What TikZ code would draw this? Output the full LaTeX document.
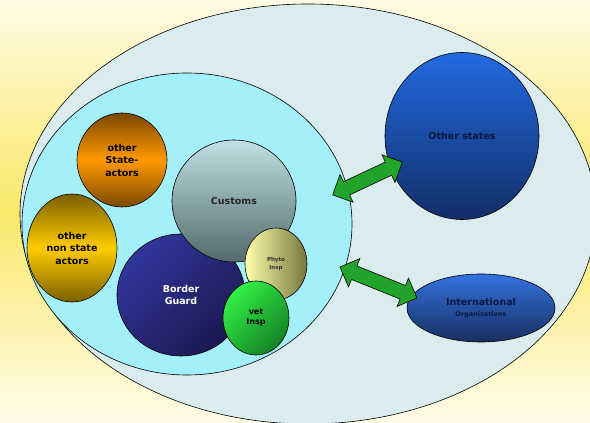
\documentclass[tikz,border=0pt]{standalone}
\usepackage{fontspec}
\setmainfont{DejaVu Sans}
\usepackage{tikz}
\usetikzlibrary{shapes.geometric,shapes.arrows}

\definecolor{bgtop}{RGB}{255,251,228}
\definecolor{bgyellow}{RGB}{250,232,105}
\definecolor{bgbottom}{RGB}{255,252,232}
\definecolor{outerfill}{RGB}{218,236,238}
\definecolor{innerfill}{RGB}{164,240,250}
\definecolor{custtop}{RGB}{190,224,228}
\definecolor{custbot}{RGB}{84,106,108}
\definecolor{statedark}{RGB}{122,72,0}
\definecolor{stateorange}{RGB}{255,153,0}
\definecolor{nonstdark}{RGB}{122,96,0}
\definecolor{nonstyellow}{RGB}{255,204,0}
\definecolor{guardlight}{RGB}{50,54,156}
\definecolor{guarddark}{RGB}{26,24,80}
\definecolor{phytolight}{RGB}{255,255,170}
\definecolor{phytodark}{RGB}{118,118,62}
\definecolor{vetlight}{RGB}{50,240,70}
\definecolor{vetdark}{RGB}{20,130,36}
\definecolor{othtop}{RGB}{34,106,224}
\definecolor{othbot}{RGB}{18,46,104}
\definecolor{inttop}{RGB}{52,114,224}
\definecolor{intbot}{RGB}{24,46,96}
\definecolor{arrowgreen}{RGB}{34,163,43}
\definecolor{navytext}{RGB}{10,24,64}

\begin{document}
\begin{tikzpicture}[x=1pt,y=1pt,
	actor/.style={shape=ellipse,draw=black,line width=0.6pt,inner sep=0pt,align=center,
		font=\fontsize{9.5}{12.5}\selectfont\bfseries},
	fatarrow/.style={shape=double arrow,draw=black,line width=0.6pt,fill=arrowgreen,
		inner xsep=0pt,inner ysep=7pt,double arrow head extend=8pt}]
	\useasboundingbox (0,0) rectangle (590,423);
	\shade[top color=bgtop,bottom color=bgbottom,middle color=bgyellow] (0,0) rectangle (590,423);

	% the two rings
	\node (outer) [actor,fill=outerfill,minimum width=576pt,minimum height=420pt] at (308,209) {};
	\node (inner) [actor,fill=innerfill,minimum width=330pt,minimum height=302pt] at (187,199) {};

	% national actors
	\node (stateact) [actor,top color=statedark,bottom color=statedark,middle color=stateorange,
		minimum width=90pt,minimum height=94pt] at (122,263) {other\\State-\\actors};
	\node (nonstate) [actor,top color=nonstdark,bottom color=nonstdark,middle color=nonstyellow,
		minimum width=90pt,minimum height=108pt] at (72,175) {other\\non state\\actors};
	\node (guard) [actor,top color=guardlight,bottom color=guarddark,shading angle=45,
		text=white,minimum width=128pt,minimum height=122pt] at (181,128) {Border\\Guard};
	\node (customs) [actor,top color=custtop,bottom color=custbot,text=black!85,
		minimum width=124pt,minimum height=122pt] at (234,222) {\raisebox{-6pt}{Customs}};
	\node (phyto) [actor,left color=phytolight,right color=phytodark,text=black!80,
		font=\fontsize{5.5}{8}\selectfont\bfseries,
		minimum width=62pt,minimum height=72pt] at (276,159) {Phyto\\Insp};
	\node (vet) [actor,top color=vetlight,bottom color=vetdark,shading angle=45,
		font=\fontsize{8}{10}\selectfont\bfseries,
		minimum width=66pt,minimum height=74pt] at (256,105) {vet\\Insp};

	% partners abroad
	\node (others) [actor,top color=othtop,bottom color=othbot,text=navytext,
		minimum width=154pt,minimum height=167pt] at (462,287) {Other states};
	\node (intorg) [actor,top color=inttop,bottom color=intbot,text=navytext,
		minimum width=148pt,minimum height=68pt] at (481,115)
		{International\\[-2pt]{\fontsize{6.5}{8}\selectfont Organisations}};

	\node (linkA) [fatarrow,minimum height=77pt,rotate=25.2] at (367.5,244.5) {};
	\node (linkB) [fatarrow,minimum height=83pt,rotate=-21.9] at (378.5,140.5) {};
\end{tikzpicture}
\end{document}
